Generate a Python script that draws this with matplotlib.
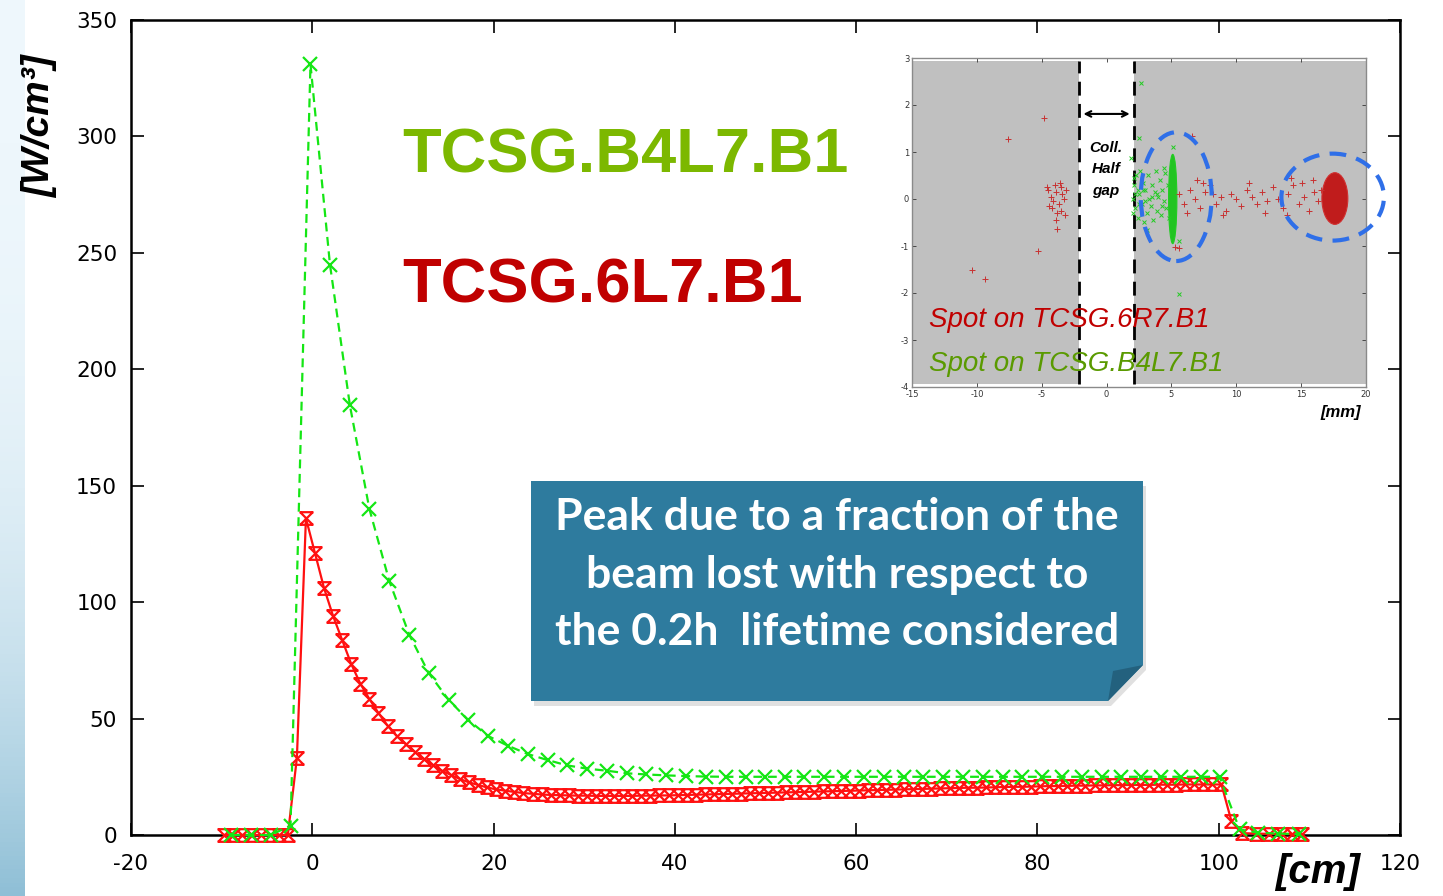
import numpy as np
import matplotlib
matplotlib.use('Agg')
import matplotlib.pyplot as plt
from matplotlib.path import Path
from matplotlib.patches import Polygon, Ellipse, Rectangle

plt.rcParams['axes.unicode_minus'] = False

W, H = 1443, 896

# ---- main profiles (energy density along the jaw) ----
green_x = [-8.95, -6.8, -4.6, -2.4, -0.2, 1.95, 4.15, 6.3, 8.5, 10.7, 12.85, 15.05, 17.2,
           19.4, 21.6, 23.75, 25.95, 28.1, 30.3, 32.5, 34.7, 36.85, 39.05, 41.2, 43.4, 45.6,
           47.8, 49.95, 52.15, 54.3, 56.5, 58.7, 60.9, 63.05, 65.25, 67.4, 69.6, 71.8, 74.0,
           76.15, 78.35, 80.5, 82.7, 84.9, 87.1, 89.25, 91.45, 93.6, 95.8, 98.0, 100.1,
           102.3, 104.3, 106.5, 108.9]
green_y = [0, 0, 0, 4, 331, 245, 184.5, 140, 109, 86, 69.5, 58, 49.4,
           42.5, 38.3, 34.8, 32.2, 29.9, 28.5, 27.6, 26.5, 26.0, 25.6, 25.3, 25.1, 25.0,
           25.0, 25.0, 25.0, 25.0, 25.0, 25.0, 25.0, 25.0, 25.0, 25.0, 25.0, 25.0, 25.0,
           25.0, 25.0, 25.0, 25.0, 25.0, 25.0, 25.0, 25.0, 25.0, 25.0, 25.0, 25.0,
           2.4, 1.0, 0.6, 0.4]

red_x = [i + 0.3 for i in range(-10, 101)] + [101.4, 102.6, 104.1, 105.6, 107.0, 108.1, 109.2]
red_y = [0, 0, 0, 0, 0, 0, 0, 0, 33, 136,
         121, 106, 94, 83.7, 73.4, 65, 58.4, 52.4, 47, 42.6,
         39, 35.7, 32.6, 30, 27.6, 25.8, 24, 22.6, 21.5, 20.4,
         19.6, 19.0, 18.5, 18.0, 17.7, 17.4, 17.2, 17.1, 17.0, 16.9,
         16.9, 16.8, 16.8, 16.8, 16.8, 16.8, 16.9, 16.9, 17.0, 17.0,
         17.1, 17.2, 17.3, 17.4, 17.5, 17.6, 17.7, 17.8, 17.9, 18.0,
         18.1, 18.2, 18.3, 18.4, 18.5, 18.6, 18.7, 18.8, 18.9, 19.0,
         19.1, 19.2, 19.3, 19.4, 19.5, 19.6, 19.7, 19.8, 19.9, 20.0,
         20.1, 20.2, 20.3, 20.3, 20.4, 20.5, 20.6, 20.7, 20.7, 20.8,
         20.9, 21.0, 21.0, 21.1, 21.2, 21.2, 21.3, 21.3, 21.4, 21.4,
         21.5, 21.5, 21.5, 21.6, 21.6, 21.6, 21.7, 21.7, 21.7, 21.7,
         21.7,
         6, 0.8, 0.6, 0.5, 0.4, 0.4, 0.3]

# ---- inset: beam spot on the jaws ----
red_spot_x = [-4.5, -4.3, -4.1, -3.9, -3.7, -3.5, -3.3, -4.2, -3.8, -3.6, -3.2, -4.4, -3.4,
              -3.9, -4.0, -3.1, -4.6, -3.5,
              -4.8, -7.6, -5.3, -3.85, -10.4, -9.4, 6.6, 5.3, 5.6,
              5.6, 6.0, 6.4, 6.8, 7.2, 7.6, 8.0, 8.4, 8.8, 9.2, 9.6, 10.0, 10.4, 10.8,
              11.2, 11.6, 12.0, 12.4, 12.8, 13.2, 13.6, 14.0, 14.4, 14.8, 15.2, 15.6,
              16.0, 16.3, 16.5, 7.4, 9.0, 11.0, 13.9, 15.9, 8.2, 12.2, 14.2, 15.1, 6.2, 7.0]
red_spot_y = [0.2, 0.05, -0.05, 0.15, -0.1, 0.25, 0.0, -0.2, -0.3, 0.35, -0.35, -0.15, 0.1,
              -0.45, 0.3, 0.2, 0.25, -0.25,
              1.72, 1.27, -1.1, -0.63, -1.51, -1.71, 1.35, -1.03, -1.05,
              0.1, -0.1, 0.2, 0.0, -0.2, 0.15, 0.3, -0.1, 0.05, -0.25, 0.1, 0.0, -0.15, 0.2,
              0.05, -0.1, 0.15, -0.05, 0.25, 0.0, -0.2, 0.1, 0.3, -0.1, 0.05, -0.25,
              0.15, -0.05, 0.2, 0.35, -0.35, 0.35, -0.35, 0.4, 0.1, -0.3, 0.45, 0.35, -0.3, 0.4]
green_spot_x = [2.0, 2.1, 2.2, 2.3, 2.4, 2.5, 2.6, 2.7, 2.8, 2.9, 3.0, 3.1, 3.2, 3.3, 3.4,
                3.5, 3.6, 3.7, 3.8, 3.9, 4.0, 4.1, 4.2, 4.3, 4.4, 4.5, 4.6, 4.7, 4.8, 4.4,
                2.2, 2.5, 3.0, 3.5, 2.8, 2.4, 2.05, 2.15, 3.9, 4.3,
                2.62, 2.49, 1.85, 5.58, 5.15, 3.1, 5.6]
green_spot_y = [0.0, 0.3, -0.2, 0.5, -0.4, 0.1, 0.6, -0.1, 0.35, -0.5, 0.2, -0.3, 0.5, 0.0,
                -0.15, 0.3, -0.45, 0.15, 0.6, -0.25, 0.05, 0.4, -0.35, 0.2, -0.05, 0.55,
                -0.2, 0.3, -0.4, 0.65,
                0.1, -0.1, -0.05, 0.05, 0.2, 0.2, -0.3, 0.45, 0.1, -0.15,
                2.47, 1.29, 0.87, -2.02, 1.10, -0.66, -0.9]


def fpos(x, y):
    return (x / W, 1 - y / H)


fig = plt.figure(figsize=(W / 100, H / 100), dpi=100)

# slide background strip on the left
ax_bg = fig.add_axes([0, 0, 25 / W, 1])
grad = np.linspace(0, 1, 200).reshape(-1, 1) ** 3
ax_bg.imshow(grad, aspect='auto', cmap=matplotlib.colors.LinearSegmentedColormap.from_list(
    'bg', ['#eef7fc', '#8fbfd6']), extent=[0, 1, 0, 1], origin='upper')
ax_bg.axis('off')

ax = fig.add_axes([131 / W, 1 - 835 / H, (1400 - 131) / W, (835 - 20) / H])

# red marker: x with caps top and bottom
cap_marker = Path([(-1, -1), (1, 1), (-1, 1), (1, -1), (-1.1, 1), (1.1, 1), (-1.1, -1), (1.1, -1)],
                  [Path.MOVETO, Path.LINETO, Path.MOVETO, Path.LINETO,
                   Path.MOVETO, Path.LINETO, Path.MOVETO, Path.LINETO])

ax.plot(red_x, red_y, color='#ff1010', lw=1.6, marker=cap_marker, ms=10, mew=1.6,
        clip_on=False, zorder=3)
ax.plot(green_x, green_y, color='#14e614', lw=1.6, ls=(0, (4, 2.5)), marker='x', ms=10,
        mew=1.6, clip_on=False, zorder=4)

ax.set_xlim(-20, 120)
ax.set_ylim(0, 350)
ax.set_xticks(range(-20, 121, 20))
ax.set_yticks(range(0, 351, 50))
ax.tick_params(direction='in', length=9, width=1.2, top=True, right=True, labelsize=15.5)
ax.tick_params(axis='x', pad=14)
ax.tick_params(axis='y', pad=10)
for lab in ax.get_xticklabels() + ax.get_yticklabels():
    lab.set_family('DejaVu Sans')
for s in ax.spines.values():
    s.set_linewidth(1.8)

ax.text(9.93, 284.5, 'TCSG.B4L7.B1', color='#7cb800', fontsize=45.5, fontweight='bold',
        family='Liberation Sans', va='baseline', ha='left')
ax.text(9.93, 228.8, 'TCSG.6L7.B1', color='#c00000', fontsize=45.5, fontweight='bold',
        family='Liberation Sans', va='baseline', ha='left')

fig.text(*fpos(1318, 872), '[cm]', fontsize=29, fontweight='bold', style='italic',
         family='Liberation Sans', ha='center', va='center')
fig.text(*fpos(40, 127), '[W/cm³]', fontsize=28, fontweight='bold', style='italic',
         family='Liberation Sans', ha='center', va='center', rotation=90)

# callout box
shadow = [fpos(x + 3, y + 5) for x, y in [(531, 481), (1143, 481), (1143, 665), (1108, 701), (531, 701)]]
fig.add_artist(Polygon(shadow, closed=True, transform=fig.transFigure, fc='#000000',
                       alpha=0.12, ec='none'))
box = [fpos(x, y) for x, y in [(531, 481), (1143, 481), (1143, 665), (1108, 701), (531, 701)]]
fig.add_artist(Polygon(box, closed=True, transform=fig.transFigure, fc='#2e7b9e', ec='none'))
fold = [fpos(x, y) for x, y in [(1108, 701), (1143, 665), (1113, 671)]]
fig.add_artist(Polygon(fold, closed=True, transform=fig.transFigure, fc='#23617e', ec='none'))
for txt, yy in [('Peak due to a fraction of the', 517),
                ('beam lost with respect to', 575),
                ('the 0.2h  lifetime considered', 632)]:
    fig.text(*fpos(837, yy), txt, color='white', fontsize=32, fontweight='bold',
             family='Lato', ha='center', va='center')

# inset
axi = fig.add_axes([912 / W, 1 - 387 / H, (1366 - 912) / W, (387 - 58) / H])
axi.add_patch(Rectangle((-15, -3.93), 12.9, 6.86, fc='#c0c0c0', ec='none'))
axi.add_patch(Rectangle((2.08, -3.93), 17.92, 6.86, fc='#c0c0c0', ec='none'))
axi.vlines([-2.1, 2.08], -3.93, 2.93, colors='black', lw=2, linestyles=(0, (5, 3)))
axi.annotate('', xy=(-2.0, 1.81), xytext=(2.0, 1.81),
             arrowprops=dict(arrowstyle='<->', color='black', lw=1.5))
for t, yy in [('Coll.', 1.08), ('Half', 0.63), ('gap', 0.16)]:
    axi.text(-0.05, yy, t, fontsize=11, fontweight='bold', style='italic',
             family='Liberation Sans', ha='center', va='center')

axi.plot(red_spot_x, red_spot_y, ls='none', marker='+', ms=4, mew=0.7, color='#c83232')
axi.add_patch(Ellipse((17.6, 0.01), 2.0, 1.1, fc='#c01c1c', ec='#d03030', lw=0.8))
axi.plot(green_spot_x, green_spot_y, ls='none', marker='x', ms=3.5, mew=0.7, color='#22cc22')
axi.add_patch(Ellipse((5.1, 0.0), 0.64, 1.9, fc='#22c422', ec='#22cc22', lw=0.8))

axi.add_patch(Ellipse((5.37, 0.05), 5.47, 2.74, fill=False, ec='#2f6fe8', lw=3,
                      ls=(0, (4, 2.5)), clip_on=False, zorder=5))
axi.add_patch(Ellipse((17.43, 0.04), 7.9, 1.85, fill=False, ec='#2f6fe8', lw=3,
                      ls=(0, (4, 2.5)), clip_on=False, zorder=5))

axi.text(-13.7, -2.72, 'Spot on TCSG.6R7.B1', color='#c00000', fontsize=20, style='italic',
         family='Liberation Sans', va='baseline')
axi.text(-13.7, -3.65, 'Spot on TCSG.B4L7.B1', color='#5a9a00', fontsize=20, style='italic',
         family='Liberation Sans', va='baseline')

axi.set_xlim(-15, 20)
axi.set_ylim(-4, 3)
axi.set_xticks(range(-15, 21, 5))
axi.set_yticks(range(-4, 4))
axi.tick_params(direction='in', length=3, width=0.6, top=True, right=True, labelsize=6,
                colors='#333333', pad=2)
for s in axi.spines.values():
    s.set_color('#8a8a8a')
    s.set_linewidth(1)
fig.text(*fpos(1341, 412), '[mm]', fontsize=12, fontweight='bold', style='italic',
         family='Liberation Sans', ha='center', va='center')

fig.savefig('out.png', dpi=100)
